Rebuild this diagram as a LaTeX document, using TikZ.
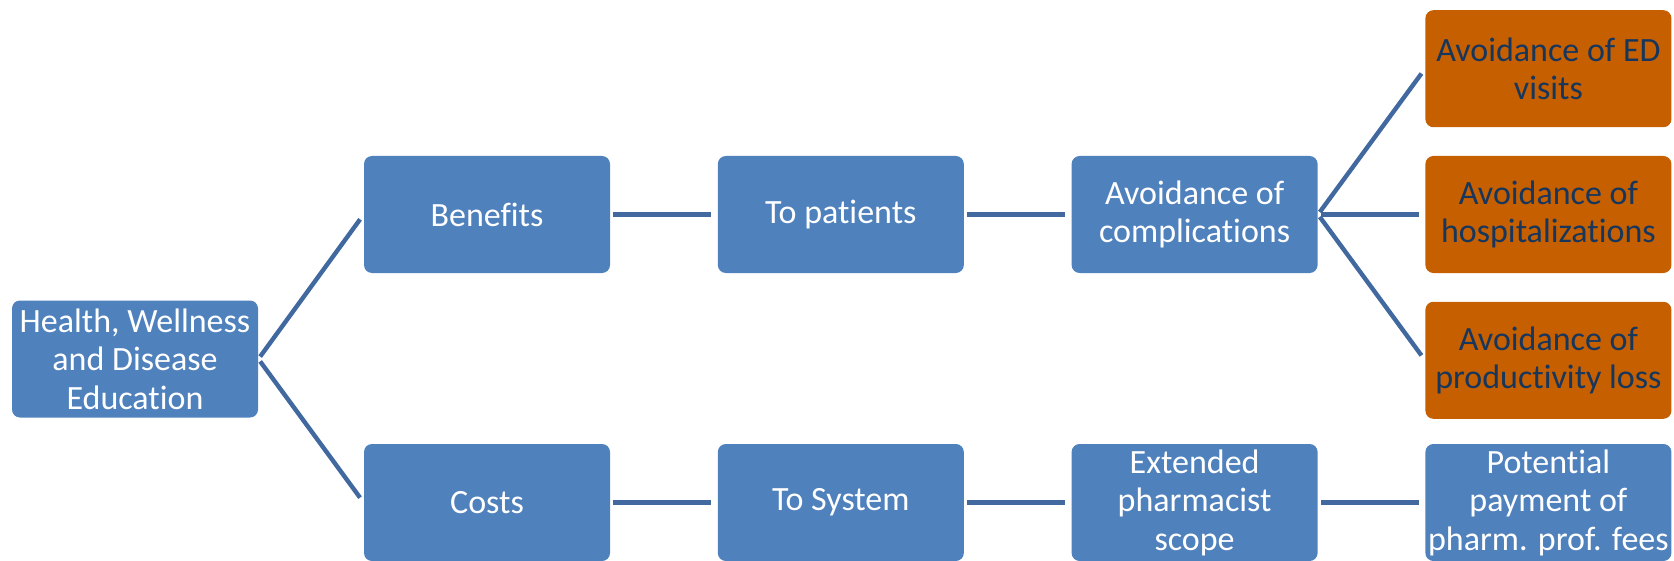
\documentclass[tikz,border=0pt]{standalone}
\usepackage{fontspec}
\setmainfont[Ligatures=CommonOff]{Carlito}
\usepackage{tikz}
\usetikzlibrary{positioning}
\definecolor{Office-blue}{RGB}{79,129,189}
\definecolor{Office-line}{RGB}{65,105,160}
\definecolor{Office-orange}{RGB}{197,95,0}
\definecolor{Office-navy}{RGB}{23,54,93}
\tikzset{%
    edge/.style={%
        draw=Office-line,
        line width=2.2pt,
        shorten <=1.5pt,
        shorten >=3pt,
    },
    branch/.style={%
        rectangle,
        fill=Office-blue,
        minimum width=123pt,
        minimum height=58.5pt,
        rounded corners=4pt,
        text=white,
        font=\fontsize{17}{19.25}\selectfont,
        align=center,
        inner sep=1pt,
    },
    outcome/.style={%
        branch,
        fill=Office-orange,
        text=Office-navy,
    },
}

\begin{document}
\begin{tikzpicture}[node distance=14pt and 53.5pt]
  % \draw[help lines] (0, 0) grid (30, -10);
  \useasboundingbox (0,0) rectangle (837pt,-280.5pt);
  \coordinate (root_pos) at (67.5pt, -179.5pt);
  \coordinate (upper_row) at (243.5pt, -107.25pt);
  \coordinate (lower_row) at (243.5pt, -251.25pt);

  \node [branch] at (root_pos) (health) {Health, Wellness\\and Disease\\Education};

  \node [branch] at (upper_row) (benefits) {Benefits};
  \node [branch, right=of benefits] (patients) {To patients};
  \node [branch, right=of patients] (complic) {Avoidance of\\complications};
  \node [outcome, right=of complic] (hosp) {Avoidance of\\hospitalizations};
  \node [outcome, above=of hosp] (edvisits) {Avoidance of ED\\visits};
  \node [outcome, below=of hosp] (prodloss) {Avoidance of\\productivity loss};

  \node [branch] at (lower_row) (costs) {Costs};
  \node [branch, right=of costs] (system) {To System};
  \node [branch, right=of system] (scope) {Extended\\pharmacist\\scope};
  \node [branch, right=of scope] (fees) {Potential\\payment of\\pharm. prof. fees};

  \draw[edge] (health.east) -- (benefits.west);
  \draw[edge] (health.east) -- (costs.west);

  \draw[edge] (benefits) -- (patients);
  \draw[edge] (patients) -- (complic);
  \draw[edge] (complic.east) -- (edvisits.west);
  \draw[edge] (complic.east) -- (hosp.west);
  \draw[edge] (complic.east) -- (prodloss.west);

  \draw[edge] (costs) -- (system);
  \draw[edge] (system) -- (scope);
  \draw[edge] (scope) -- (fees);
\end{tikzpicture}
\end{document}
